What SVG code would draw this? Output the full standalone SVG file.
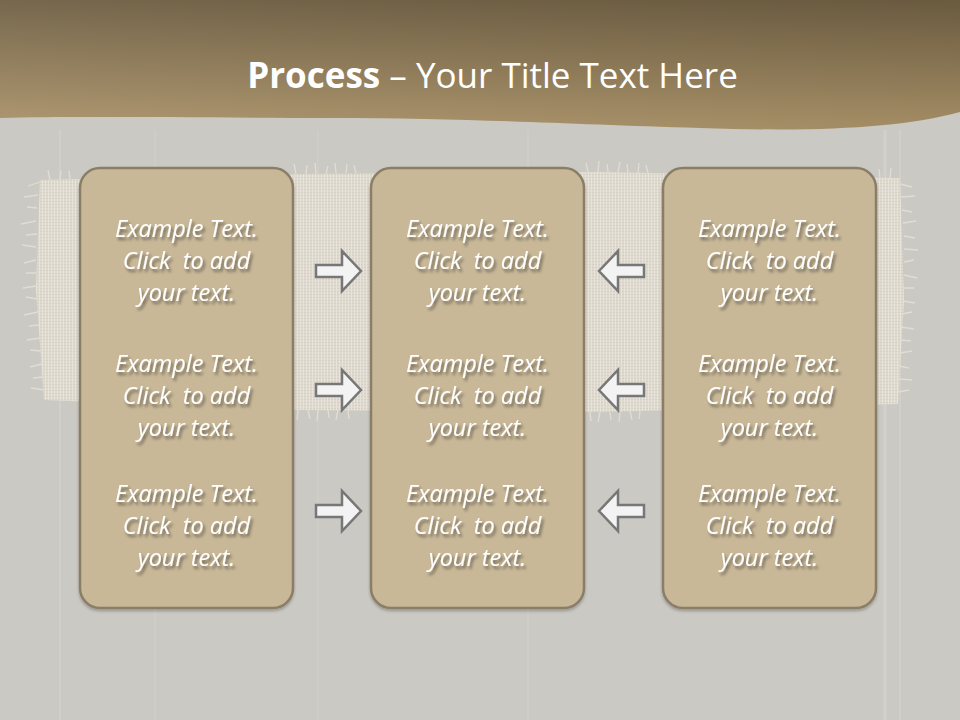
<svg xmlns="http://www.w3.org/2000/svg" width="960" height="720" viewBox="0 0 960 720">
  <defs>
    <linearGradient id="hdr" x1="0" y1="0" x2="0" y2="1">
      <stop offset="0" stop-color="#6e5e42"/>
      <stop offset="1" stop-color="#ab9369"/>
    </linearGradient>
    <linearGradient id="hdrH" x1="0" y1="0" x2="1" y2="0">
      <stop offset="0" stop-color="#ffffff" stop-opacity="0.06"/>
      <stop offset="1" stop-color="#000000" stop-opacity="0.04"/>
    </linearGradient>
    <pattern id="weave" width="3" height="3" patternUnits="userSpaceOnUse">
      <rect width="3" height="3" fill="#dfdad0"/>
      <rect width="3" height="1" fill="#d6d0c3"/>
      <rect width="1" height="3" fill="#e7e3da"/>
    </pattern>
    <filter id="ts" x="-10%" y="-20%" width="130%" height="150%">
      <feGaussianBlur in="SourceAlpha" stdDeviation="1.5"/>
      <feOffset dx="2" dy="2.5" result="b"/>
      <feFlood flood-color="#000" flood-opacity="0.45"/>
      <feComposite in2="b" operator="in"/>
      <feMerge><feMergeNode/><feMergeNode in="SourceGraphic"/></feMerge>
    </filter>
    <filter id="bs" x="-10%" y="-10%" width="120%" height="120%">
      <feGaussianBlur in="SourceAlpha" stdDeviation="1.5"/>
      <feOffset dx="0" dy="1.5" result="b"/>
      <feFlood flood-color="#000" flood-opacity="0.25"/>
      <feComposite in2="b" operator="in"/>
      <feMerge><feMergeNode/><feMergeNode in="SourceGraphic"/></feMerge>
    </filter>
  </defs>
  <style>
    .box { fill: #c8b898; stroke: #8b7e67; stroke-width: 2.5; }
    .txt { font-family: "Open Sans", "Liberation Sans", sans-serif; font-style: italic; font-size: 23.5px; fill: #ffffff; text-anchor: middle; }
    .arr { fill: #f3f3f3; stroke: #777777; stroke-width: 2.5; stroke-linejoin: miter; }
    .fr { stroke: #e2ddd2; stroke-width: 1.3; fill: none; }
    .streak { stroke: #e3e0d9; stroke-opacity: 0.35; }
  </style>

  <!-- background wood -->
  <rect width="960" height="720" fill="#cbc9c3"/>
  <g class="streak">
    <line x1="60" y1="130" x2="60" y2="720" stroke-width="1.5"/>
    <line x1="155" y1="130" x2="155" y2="720" stroke-width="1"/>
    <line x1="318" y1="130" x2="318" y2="720" stroke-width="1"/>
    <line x1="528" y1="130" x2="528" y2="720" stroke-width="1"/>
    <line x1="885" y1="130" x2="885" y2="720" stroke-width="3"/>
    <line x1="900" y1="130" x2="900" y2="720" stroke-width="1.5"/>
  </g>

  <!-- burlap cloth -->
  <g id="burlap">
    <path d="M40,180 L300,174 L600,172 L900,178 L904,300 L898,404 L600,412 L300,410 L44,400 L36,290 Z" fill="url(#weave)"/>
    <g class="fr">
      <path d="M40,182 l-12,4 M38,195 l-14,2 M37,208 l-10,-1 M36,221 l-15,3 M37,234 l-11,1 M36,247 l-14,-2 M36,260 l-12,3 M36,273 l-10,0 M36,286 l-13,2 M37,299 l-11,-2 M38,312 l-14,3 M39,325 l-10,1 M40,338 l-13,2 M41,351 l-11,-1 M42,364 l-12,3 M43,377 l-10,1 M44,390 l-13,-2"/>
      <path d="M900,184 l12,3 M901,197 l14,-1 M902,210 l10,2 M903,223 l13,-2 M904,236 l11,2 M904,249 l14,1 M904,262 l10,-2 M904,275 l13,3 M903,288 l11,0 M903,301 l12,2 M902,314 l10,-2 M901,327 l13,2 M900,340 l11,1 M900,353 l12,-2 M899,366 l10,2 M899,379 l13,1 M898,392 l11,-2"/>
      <path d="M296,174 l-2,-10 M306,174 l1,-9 M316,174 l-1,-11 M326,174 l2,-8 M336,173 l-1,-10 M346,173 l1,-9 M356,173 l-2,-8 M588,172 l-2,-9 M598,172 l1,-11 M608,172 l-1,-8 M618,172 l2,-10 M628,173 l-1,-9 M638,173 l1,-10 M648,173 l-2,-8 M50,180 l-2,-10 M60,180 l1,-9 M70,179 l-1,-8 M880,178 l-1,-9 M890,178 l1,-10"/>
      <path d="M298,410 l-1,10 M308,410 l2,9 M318,410 l-1,11 M328,410 l1,8 M338,410 l-2,10 M348,410 l1,9 M590,412 l1,9 M600,412 l-2,10 M610,412 l1,8 M620,411 l-1,11 M630,411 l2,9 M640,411 l-1,8"/>
    </g>
  </g>

  <!-- header -->
  <g id="header">
    <path d="M0,0 H960 V112 C900,128 820,132 700,128 C560,124 470,118 330,118 C200,118 80,116 0,118 Z" fill="url(#hdr)"/>
    <path d="M0,0 H960 V112 C900,128 820,132 700,128 C560,124 470,118 330,118 C200,118 80,116 0,118 Z" fill="url(#hdrH)"/>
    <text x="492.5" y="88" text-anchor="middle" font-family="Open Sans, Liberation Sans, sans-serif" font-size="35" fill="#ffffff"><tspan font-weight="bold">Process</tspan> – Your Title Text Here</text>
  </g>

  <!-- nodes -->
  <g id="col1" filter="url(#bs)">
    <rect class="box" x="80" y="168" width="213" height="440" rx="20"/>
  </g>
  <g id="col2" filter="url(#bs)">
    <rect class="box" x="371" y="168" width="213" height="440" rx="20"/>
  </g>
  <g id="col3" filter="url(#bs)">
    <rect class="box" x="663" y="168" width="213" height="440" rx="20"/>
  </g>

  <g id="texts" class="txt" filter="url(#ts)">
    <text x="186.5" y="237">Example Text.</text>
    <text x="186.5" y="269">Click&#160; to add</text>
    <text x="186.5" y="301">your text.</text>
    <text x="186.5" y="372">Example Text.</text>
    <text x="186.5" y="404">Click&#160; to add</text>
    <text x="186.5" y="436">your text.</text>
    <text x="186.5" y="502">Example Text.</text>
    <text x="186.5" y="534">Click&#160; to add</text>
    <text x="186.5" y="566">your text.</text>

    <text x="477.5" y="237">Example Text.</text>
    <text x="477.5" y="269">Click&#160; to add</text>
    <text x="477.5" y="301">your text.</text>
    <text x="477.5" y="372">Example Text.</text>
    <text x="477.5" y="404">Click&#160; to add</text>
    <text x="477.5" y="436">your text.</text>
    <text x="477.5" y="502">Example Text.</text>
    <text x="477.5" y="534">Click&#160; to add</text>
    <text x="477.5" y="566">your text.</text>

    <text x="769.5" y="237">Example Text.</text>
    <text x="769.5" y="269">Click&#160; to add</text>
    <text x="769.5" y="301">your text.</text>
    <text x="769.5" y="372">Example Text.</text>
    <text x="769.5" y="404">Click&#160; to add</text>
    <text x="769.5" y="436">your text.</text>
    <text x="769.5" y="502">Example Text.</text>
    <text x="769.5" y="534">Click&#160; to add</text>
    <text x="769.5" y="566">your text.</text>
  </g>

  <!-- connectors -->
  <g id="connectors">
    <path class="arr" d="M316,265 H342 V251 L361,271 L342,291 V277 H316 Z"/>
    <path class="arr" d="M316,384 H342 V370 L361,390 L342,410 V396 H316 Z"/>
    <path class="arr" d="M316,505 H342 V491 L361,511 L342,531 V517 H316 Z"/>
    <path class="arr" d="M644,265 H618 V251 L599,271 L618,291 V277 H644 Z"/>
    <path class="arr" d="M644,384 H618 V370 L599,390 L618,410 V396 H644 Z"/>
    <path class="arr" d="M644,505 H618 V491 L599,511 L618,531 V517 H644 Z"/>
  </g>
</svg>
